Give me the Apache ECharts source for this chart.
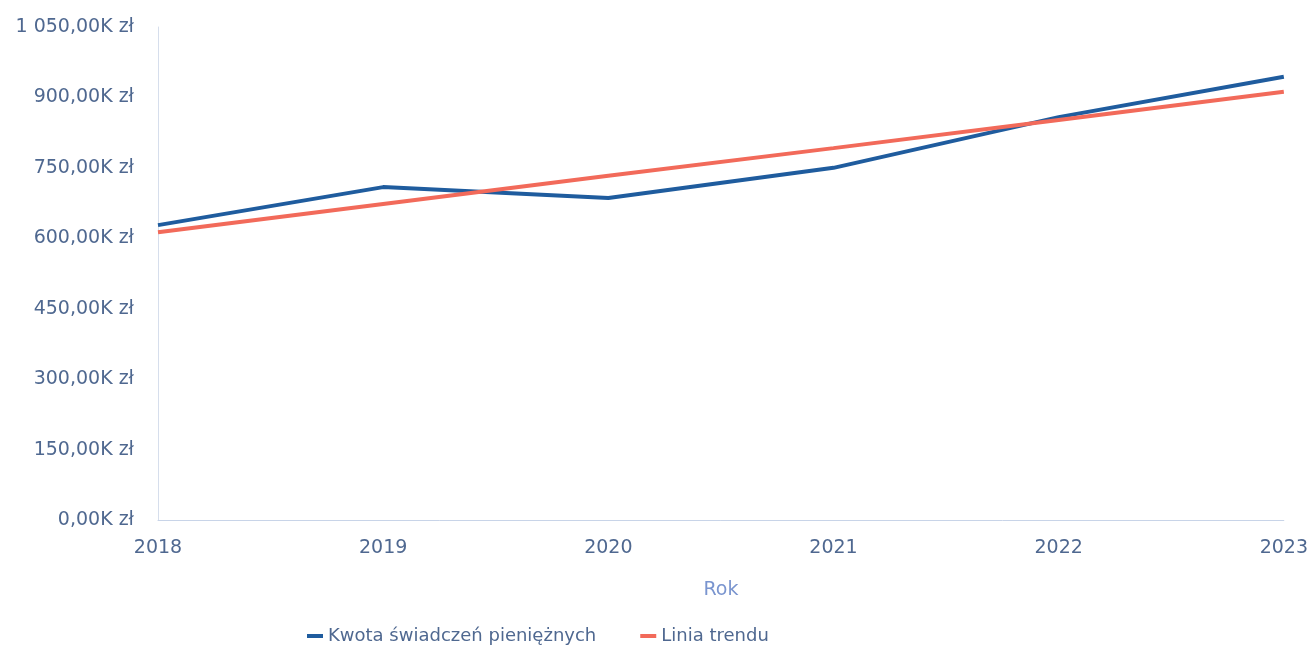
<!DOCTYPE html>
<html lang="pl">
<head>
    <meta charset="UTF-8">
    <title>Kwota świadczeń pieniężnych</title>
    <script src="https://cdn.jsdelivr.net/npm/echarts@6/dist/echarts.min.js"></script>
    <style>
        html, body { margin: 0; padding: 0; background: #fff; }
    </style>
</head>
<body>
    <div id="main" style="width: 1311px;height:650px;"></div>

    <script type="text/javascript">
        // dane (w zł)
        var years = ['2018', '2019', '2020', '2021', '2022', '2023'];
        var kwota = [628000, 709000, 686000, 750000, 858000, 944000];
        var trend = [613000, 673000, 733000, 792000, 852000, 912000];

        function fmtK(v) {
            var s = (v / 1000).toFixed(2).split('.');
            var intPart = s[0].replace(/\B(?=(\d{3})+(?!\d))/g, ' ');
            return intPart + ',' + s[1] + 'K zł';
        }

        var textColor = '#4f6890';
        var font = '"DejaVu Sans", sans-serif';

        var myChart = echarts.init(document.getElementById('main'));

        var option = {
            animation: false,
            textStyle: { fontFamily: font },
            grid: { left: 158, right: 26, top: 27, bottom: 130 },
            legend: {
                bottom: 0,
                left: 302,
                itemWidth: 16,
                itemHeight: 4,
                itemGap: 44,
                icon: 'rect',
                textStyle: { color: textColor, fontSize: 18, fontFamily: font },
                data: ['Kwota świadczeń pieniężnych', 'Linia trendu']
            },
            xAxis: {
                type: 'category',
                data: years,
                boundaryGap: false,
                name: 'Rok',
                nameLocation: 'middle',
                nameGap: 61,
                nameTextStyle: { color: '#7a95cf', fontSize: 19, fontFamily: font },
                axisLine: { lineStyle: { color: '#c8d4e8', width: 1 } },
                axisTick: { show: false },
                axisLabel: { color: textColor, fontSize: 19, margin: 19, fontFamily: font }
            },
            yAxis: {
                type: 'value',
                min: 0,
                max: 1050000,
                interval: 150000,
                axisLine: { show: true, lineStyle: { color: '#d6deec', width: 1 } },
                axisTick: { show: false },
                splitLine: { show: false },
                axisLabel: {
                    color: textColor,
                    fontSize: 19,
                    margin: 24,
                    fontFamily: font,
                    formatter: fmtK
                }
            },
            series: [{
                name: 'Kwota świadczeń pieniężnych',
                type: 'line',
                data: kwota,
                symbol: 'none',
                color: '#1f5c9e',
                lineStyle: { width: 4, color: '#1f5c9e' }
            }, {
                name: 'Linia trendu',
                type: 'line',
                data: trend,
                symbol: 'none',
                color: '#f26a5a',
                lineStyle: { width: 4, color: '#f26a5a' }
            }]
        };

        myChart.setOption(option);
    </script>
</body>
</html>
